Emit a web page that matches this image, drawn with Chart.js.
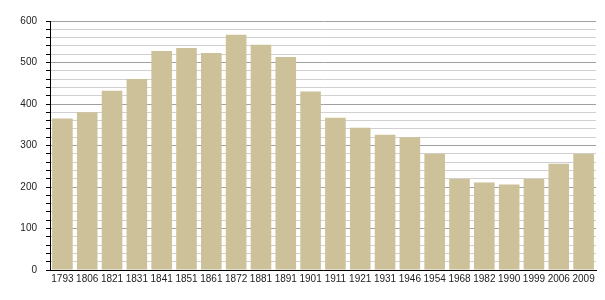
<!DOCTYPE html>
<html>
<head>
<meta charset="utf-8">
<script src="https://cdn.jsdelivr.net/npm/chart.js@4/dist/chart.umd.min.js"></script>
<style>
  html, body { margin: 0; padding: 0; background: #fff; }
  #wrap { width: 605px; height: 300px; }
</style>
</head>
<body>
<div id="wrap"><canvas id="c" width="605" height="300"></canvas></div>
<script>
const years = ["1793","1806","1821","1831","1841","1851","1861","1872","1881","1891","1901","1911","1921","1931","1946","1954","1968","1982","1990","1999","2006","2009"];
const population = [365,380,432,460,528,535,523,567,543,513,430,367,343,326,320,280,219,211,206,219,256,280];
const yMin = 0;
const yMax = 600;
const yStep = 20;
const yLabelStep = 100;

new Chart(document.getElementById('c'), {
  type: 'bar',
  data: {
    labels: years,
    datasets: [{
      data: population,
      backgroundColor: 'rgb(204,193,152)',
      borderWidth: 0,
      barPercentage: 0.83,
      categoryPercentage: 1.0
    }]
  },
  options: {
    responsive: false,
    animation: false,
    devicePixelRatio: 1,
    layout: { padding: { left: 0, top: 21, right: 9, bottom: 0 } },
    plugins: { legend: { display: false }, tooltip: { enabled: false } },
    scales: {
      x: {
        grid: { display: false, drawTicks: false },
        border: { display: true, color: '#000', width: 1 },
        ticks: { color: '#222', font: { family: 'Liberation Sans, Arial', size: 10 }, padding: 3, maxRotation: 0, autoSkip: false },
        afterFit: s => { s.height = 30; }
      },
      y: {
        min: yMin, max: yMax,
        grid: {
          color: ctx => (ctx.tick && ctx.tick.value % yLabelStep === 0) ? '#a0a0a0' : '#d0d0d0',
          tickColor: '#000',
          tickLength: 4,
          drawTicks: true
        },
        border: { display: true, color: '#000', width: 1 },
        ticks: {
          stepSize: yStep,
          color: '#222',
          font: { family: 'Liberation Sans, Arial', size: 10 },
          padding: 9,
          autoSkip: false,
          callback: v => (v % yLabelStep === 0 ? String(v) : '')
        },
        afterFit: s => { s.width = 50; }
      }
    }
  }
});
</script>
</body>
</html>
